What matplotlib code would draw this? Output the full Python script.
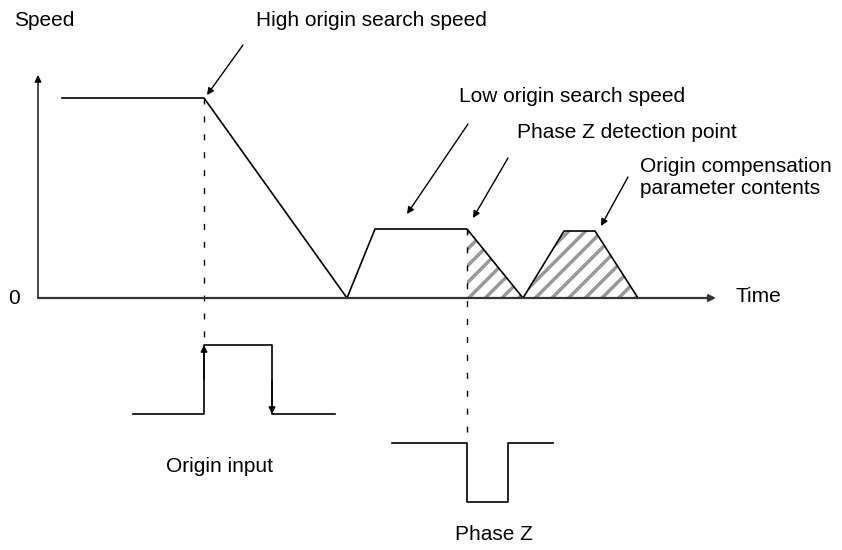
import matplotlib.pyplot as plt

plt.rcParams['font.family'] = ['Liberation Sans', 'DejaVu Sans']
plt.rcParams['hatch.linewidth'] = 2.5

# speed profile (x = time position, y = screen height, 298 = zero speed)
profile_t = [62, 204, 347, 375, 467, 523, 564, 595, 638]
profile_v = [98, 98, 298, 229, 229, 298, 231, 231, 298]

# hatched areas: after phase Z and origin compensation
hatch1_t = [467, 523, 467]
hatch1_v = [229, 298, 298]
hatch2_t = [523, 564, 595, 638]
hatch2_v = [298, 231, 231, 298]

# origin input pulse
origin_t = [133, 204, 204, 272, 272, 335]
origin_v = [414, 414, 345, 345, 414, 414]

# phase Z pulse
phz_t = [392, 467, 467, 508, 508, 553]
phz_v = [443, 443, 502, 502, 443, 443]

# callout labels: text, text position, arrow start, arrow end
callouts = [
    ("High origin search speed", (256, 21), (243, 45), (207, 95)),
    ("Low origin search speed", (459, 97), (468, 124), (407, 214)),
    ("Phase Z detection point", (517, 132), (508, 158), (473, 218)),
    ("Origin compensation", (640, 167), (628, 177), (601, 226)),
]
extra_line = ("parameter contents", (640, 188))

fig = plt.figure(figsize=(8.42, 5.5), dpi=100)
ax = fig.add_axes([0, 0, 1, 1])
ax.set_xlim(0, 842)
ax.set_ylim(550, 0)
ax.axis('off')

fs = 15
arrow = dict(arrowstyle='-|>', color='black', lw=1, mutation_scale=10, shrinkA=0, shrinkB=0)

# axes
ax.annotate("", xy=(38, 75), xytext=(38, 298), arrowprops=arrow)
ax.annotate("", xy=(716, 298), xytext=(38, 298),
            arrowprops=dict(arrow, lw=1.6, color='#333333'))
ax.text(14, 21, "Speed", fontsize=fs, va='center', ha='left')
ax.text(8, 298, "0", fontsize=fs, va='center', ha='left')
ax.text(735, 297, "Time", fontsize=fs, va='center', ha='left')

# hatched regions
ax.fill(hatch1_t, hatch1_v, facecolor='none', edgecolor='#999999', hatch='//', linewidth=0)
ax.fill(hatch2_t, hatch2_v, facecolor='none', edgecolor='#999999', hatch='//', linewidth=0)

ax.plot(profile_t, profile_v, color='black', lw=1.2)

# dashed guides
ax.plot([204, 204], [98, 345], color='black', lw=1, dashes=(4.3, 8.6))
ax.plot([467, 467], [229, 443], color='black', lw=1, dashes=(4.3, 8.6))

# pulses
ax.plot(origin_t, origin_v, color='black', lw=1.2)
ax.annotate("", xy=(204, 345), xytext=(204, 380), arrowprops=arrow)
ax.annotate("", xy=(272, 414), xytext=(272, 380), arrowprops=arrow)
ax.plot(phz_t, phz_v, color='black', lw=1.2)
ax.text(220, 467, "Origin input", fontsize=fs, va='center', ha='center')
ax.text(494, 534, "Phase Z", fontsize=fs, va='center', ha='center')

for label, pos, start, end in callouts:
    ax.text(pos[0], pos[1], label, fontsize=fs, va='center', ha='left')
    ax.annotate("", xy=end, xytext=start, arrowprops=arrow)
ax.text(extra_line[1][0], extra_line[1][1], extra_line[0], fontsize=fs, va='center', ha='left')

fig.savefig("out.png", dpi=100)
